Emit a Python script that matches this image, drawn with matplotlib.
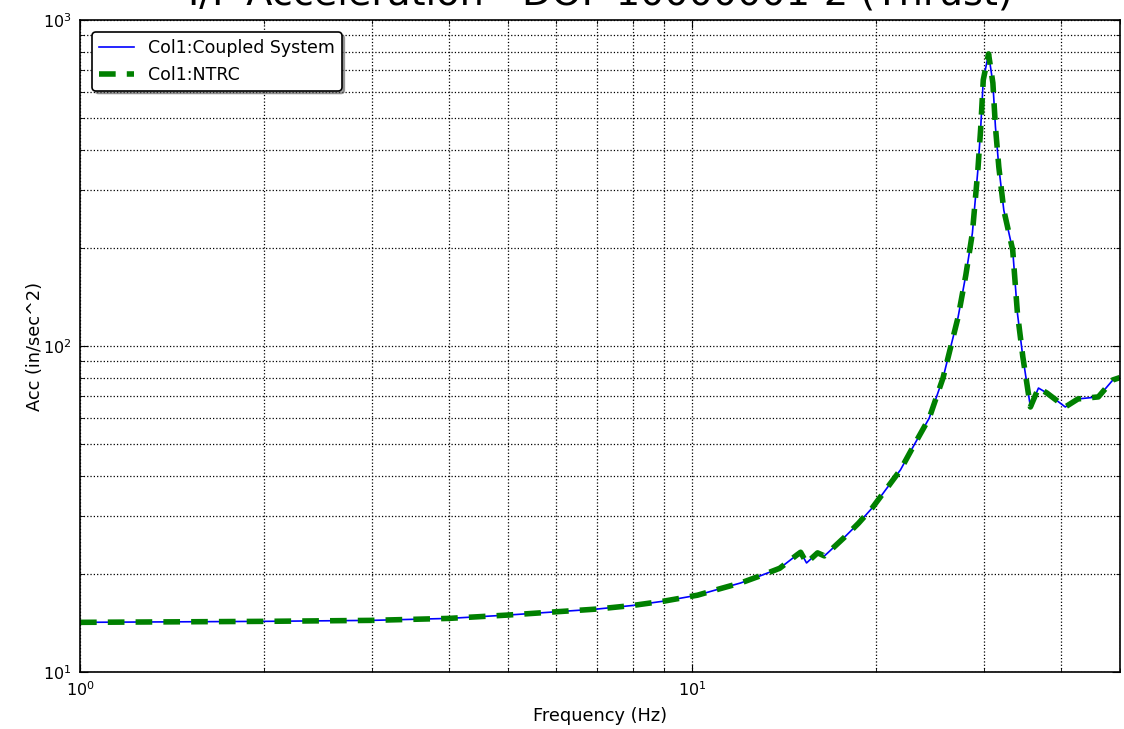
import numpy as np
import matplotlib.pyplot as plt

# Frequency response data
freq_hz = [1.0, 2.0, 3.0, 4.0, 5.0, 6.0, 7.0, 8.0, 9.0, 10.2, 11.1, 12.0, 12.9,
           13.9, 14.85, 15.04, 15.38, 16.03, 16.45, 16.7, 17.7, 18.7, 19.7, 21.9,
           23.05, 24.4, 25.7, 27.2, 28.0, 28.7, 29.3, 29.6, 29.9, 30.5, 31.0,
           31.3, 31.7, 32.3, 33.4, 34.0, 34.7, 35.3, 35.7, 36.8, 38.0, 40.7,
           42.7, 46.1, 48.7, 50.0]
acc_coupled = [14.2, 14.3, 14.4, 14.6, 14.95, 15.3, 15.6, 16.0, 16.5, 17.2, 18.0,
               18.75, 19.7, 20.8, 22.9, 23.3, 21.6, 23.2, 22.7, 23.3, 25.8, 28.6,
               31.9, 41.7, 49.7, 60.1, 79.8, 122.7, 165.0, 222.0, 347.0, 460.0,
               655.0, 787.0, 641.0, 470.0, 354.0, 261.0, 197.0, 126.0, 92.5, 74.8,
               65.0, 74.3, 71.7, 65.0, 68.8, 69.8, 78.7, 80.0]
acc_ntrc = [14.2, 14.3, 14.4, 14.6, 14.95, 15.3, 15.6, 16.0, 16.5, 17.2, 18.0,
            18.75, 19.7, 20.8, 22.9, 23.3, 21.6, 23.2, 22.7, 23.3, 25.8, 28.6,
            31.9, 41.7, 49.7, 60.1, 79.8, 122.7, 165.0, 222.0, 347.0, 460.0,
            655.0, 787.0, 641.0, 470.0, 354.0, 261.0, 197.0, 126.0, 92.5, 74.8,
            65.0, 74.3, 71.7, 65.0, 68.8, 69.8, 78.7, 80.0]

plt.rcParams['xtick.direction'] = 'in'
plt.rcParams['ytick.direction'] = 'in'
plt.rcParams['xtick.top'] = True
plt.rcParams['ytick.right'] = True
plt.rcParams['xtick.major.size'] = 6
plt.rcParams['ytick.major.size'] = 6
plt.rcParams['xtick.minor.size'] = 3
plt.rcParams['ytick.minor.size'] = 3

fig = plt.figure(figsize=(11.24, 7.29), dpi=100)
ax = fig.add_axes([0.0712, 0.0782, 0.9252, 0.8944])

ax.plot(freq_hz, acc_coupled, color='blue', lw=1.2, label='Col1:Coupled System')
ax.plot(freq_hz, acc_ntrc, color='green', lw=4, ls='--', dashes=(3, 2),
        label='Col1:NTRC')

ax.set_xscale('log')
ax.set_yscale('log')
ax.set_xlim(1, 50)
ax.set_ylim(10, 1000)

ax.grid(True, which='both', color='black', linestyle=':', linewidth=0.9)
for s in ax.spines.values():
    s.set_linewidth(1.2)

ax.tick_params(labelsize=11.5, pad=6)
ax.set_xlabel('Frequency (Hz)', fontsize=12.8, labelpad=6)
ax.set_ylabel('Acc (in/sec^2)', fontsize=12.8, labelpad=-1)
ax.set_title('I/F Acceleration - DOF 10000001-2 (Thrust)', fontsize=27.5, pad=11.5)

leg = ax.legend(loc='upper left', fancybox=True, shadow=True, framealpha=1,
                fontsize=12.5, borderaxespad=0.7)
leg.get_frame().set_edgecolor('black')
leg.get_frame().set_linewidth(1.2)

plt.savefig('out.png', dpi=100)
